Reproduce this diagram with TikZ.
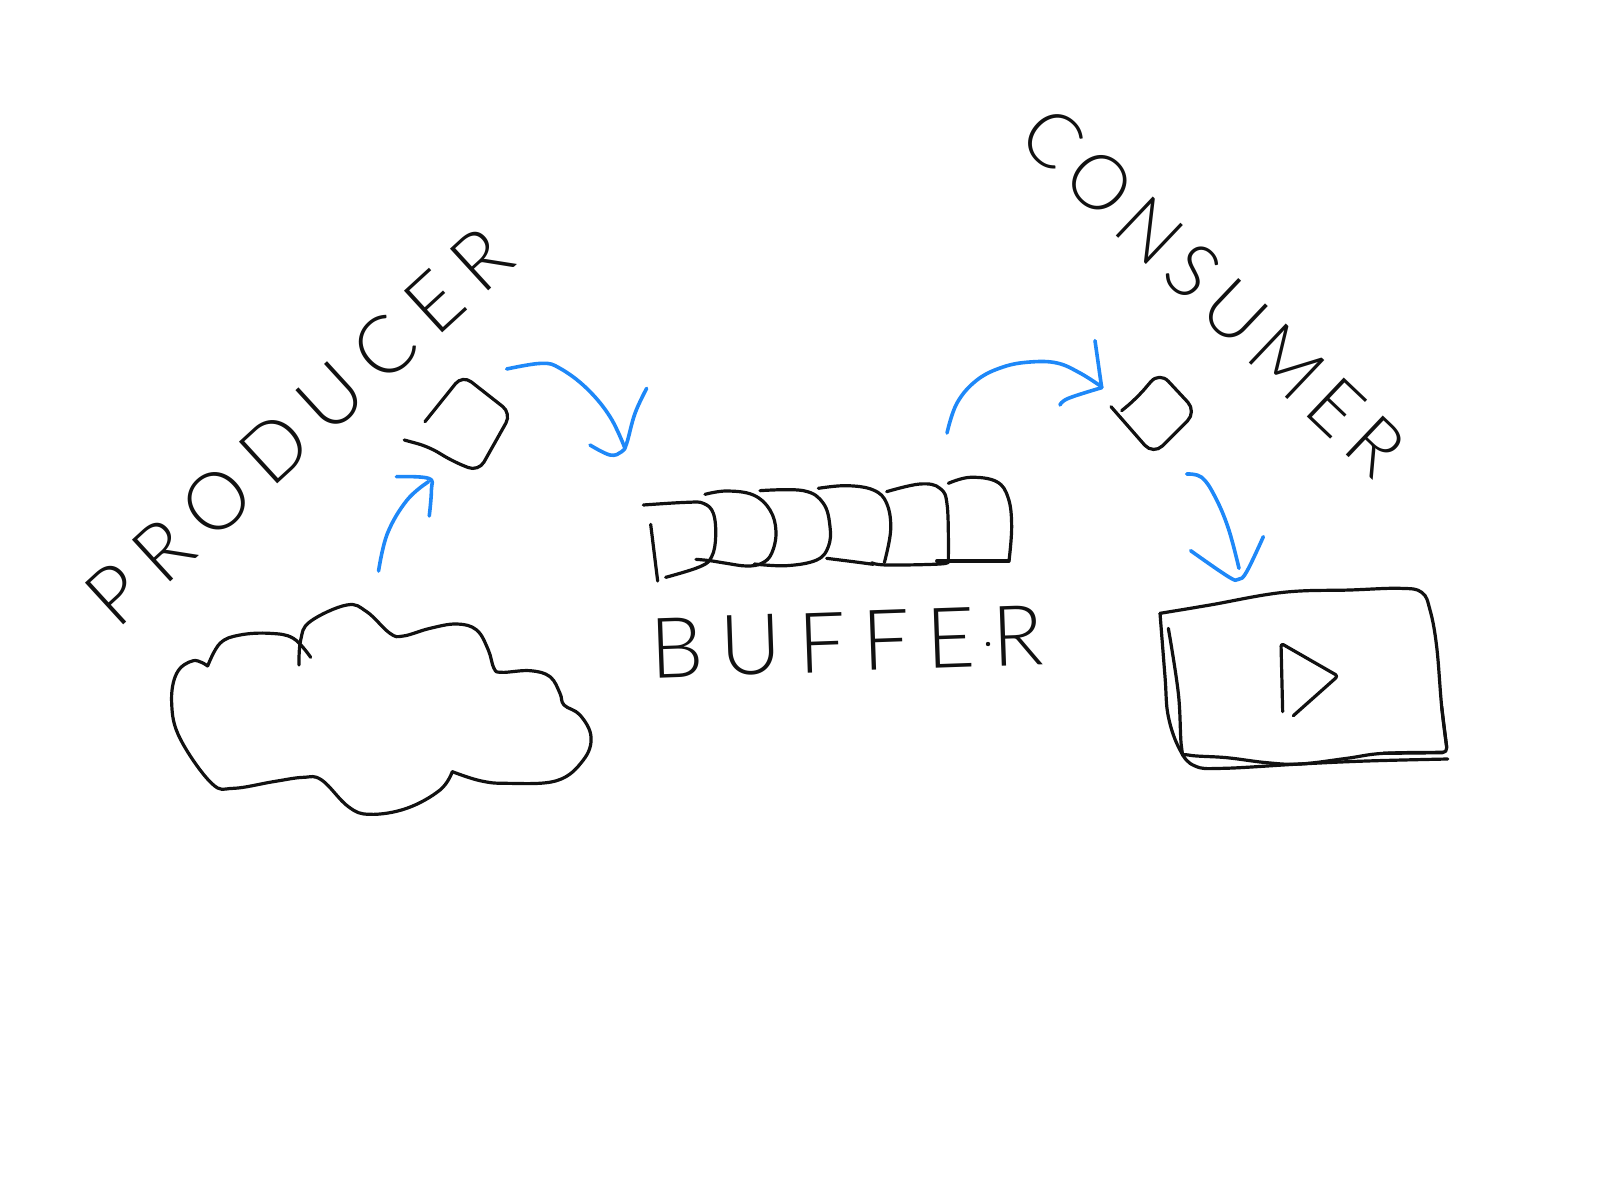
\documentclass[tikz,border=0pt]{standalone}
\usepackage{fontspec}
\newfontfamily\handfont{Lato}[UprightFont={* Light}]
\definecolor{flowblue}{HTML}{1E88F8}
\definecolor{inkblack}{HTML}{111111}
\tikzset{
  ink/.style={draw=inkblack,line width=3.2pt,line cap=round,line join=round,smooth,tension=0.65},
  inkbox/.style={draw=inkblack,line width=3.2pt,line cap=round,line join=round},
  flow/.style={draw=flowblue,line width=3.6pt,line cap=round,line join=round,smooth,tension=0.65},
  hand/.style={inner sep=0pt,text=inkblack}
}
\begin{document}
\begin{tikzpicture}[x=1pt,y=-1pt]
\useasboundingbox (0,0) rectangle (1600,1200);

% Labels
\node[hand,rotate=42.5,font=\handfont\fontsize{80}{80}\selectfont\addfontfeature{LetterSpace=21}] (producer) at (299,426) {PRODUCER};
\node[hand,rotate=-43.5,font=\handfont\fontsize{76}{76}\selectfont\addfontfeature{LetterSpace=13.5}] (consumer) at (1213,291) {CONSUMER};
\node[hand,rotate=2,font=\handfont\fontsize{84}{84}\selectfont\addfontfeature{LetterSpace=20}] (buffer) at (847,642) {BUFFER};
\fill[inkblack] (988,644) circle (2.2);

% Cloud
\begin{scope}[shift={(140,580)},scale=1/3]
\draw[ink] plot coordinates {(477,255)(482,180)(510,125)(620,75)(680,95)(750,160)(790,168)(870,145)(950,132)(1010,150)(1045,210)(1062,265)(1085,277)(1170,272)(1230,290)(1260,340)(1272,375)(1320,405)(1353,470)(1330,540)(1250,602)(1100,610)(1020,602)(937,575)};
\draw[ink] plot coordinates {(937,575)(900,630)(800,685)(690,703)(625,680)(545,600)(490,592)(400,605)(280,625)(215,610)(120,475)(95,370)(110,280)(160,242)(203,258)};
\draw[ink] plot coordinates {(203,258)(240,190)(300,165)(390,160)(460,175)(512,232)};
\end{scope}

% Small box and first arrow on the producer side
\begin{scope}[shift={(50,200)},xscale=1/2.8,yscale=1/3]
\draw[inkbox,rounded corners=11pt] (1050,665) -- (1155,525) -- (1292,640) -- (1200,815) -- (1130,785) -- (1060,740) -- (992,720);
\draw[flow] plot coordinates {(920,1113)(945,1000)(1000,900)(1060,845)};
\draw[flow] plot coordinates {(970,830)(1060,835)(1068,870)(1062,948)};
\end{scope}
\begin{scope}[shift={(500,350)},scale=1/3]
\draw[flow] plot coordinates {(20,57)(125,40)(180,55)(260,115)(330,200)(375,295)};
\draw[flow] plot coordinates {(270,285)(330,315)(365,305)(380,280)(405,190)(440,115)};
\end{scope}

% Buffer cells
\begin{scope}[shift={(620,340)},scale=1/3]
\draw[ink] plot coordinates {(70,495)(200,487)(250,490)(280,520)(287,590)(275,650)(240,680)(137,712)};
\draw[ink] (92,553) -- (113,723);
\draw[ink] plot coordinates {(255,463)(320,453)(400,465)(450,510)(468,575)(455,640)(425,670)(380,678)(320,670)(270,662)(228,658)};
\draw[ink] plot coordinates {(420,452)(550,452)(610,490)(630,560)(625,620)(590,660)(500,677)(403,672)};
\draw[ink] plot coordinates {(595,445)(680,437)(760,450)(800,490)(812,570)(793,668)};
\draw[ink] plot coordinates {(620,655)(700,665)(760,673)};
\draw[ink] plot coordinates {(800,455)(900,432)(960,445)(982,500)(985,664)};
\draw[ink] plot coordinates {(985,664)(960,672)(800,675)(755,668)};
\draw[ink] plot coordinates {(985,430)(1050,412)(1130,425)(1165,475)(1175,560)(1167,663)};
\draw[ink] (1167,663) -- (950,663);
\end{scope}

% Consumer side arrow and box
\draw[flow] plot coordinates {(947,433)(957,403)(977,380)(1003,367)(1030,362)(1057,363)(1080,373)(1102,387)};
\begin{scope}[shift={(1000,90)},scale=1/3]
\draw[flow] plot coordinates {(180,945)(205,925)(305,893)};
\draw[flow] (305,893) -- (285,752);
\draw[inkbox,rounded corners=13pt] (365,962) -- (410,925) -- (478,845) -- (590,965) -- (460,1095) -- (333,950);
\end{scope}

% Video player
\begin{scope}[shift={(1100,460)},scale=1/3]
\draw[flow] plot coordinates {(260,42)(305,52)(345,110)(385,205)(417,325)};
\draw[flow] plot coordinates {(272,272)(385,350)(415,358)(440,335)(490,230)};
\draw[ink] plot coordinates {(180,460)(330,435)(550,397)(750,390)(900,385)(965,397)(990,450)(1010,560)(1025,740)(1040,860)};
\draw[inkbox,rounded corners=5pt] (1025,740) -- (1042,878) -- (850,880);
\draw[ink] plot coordinates {(1030,877)(850,880)(740,895)(600,912)(500,908)(380,893)(265,885)(245,865)(235,700)(205,505)};
\draw[ink] plot coordinates {(180,460)(195,650)(205,770)(240,870)(285,918)(370,925)(600,912)(800,903)(1043,897)};
\draw[inkbox,rounded corners=3pt] (548,755) -- (543,550) -- (714,648) -- (580,767);
\end{scope}
\end{tikzpicture}
\end{document}
